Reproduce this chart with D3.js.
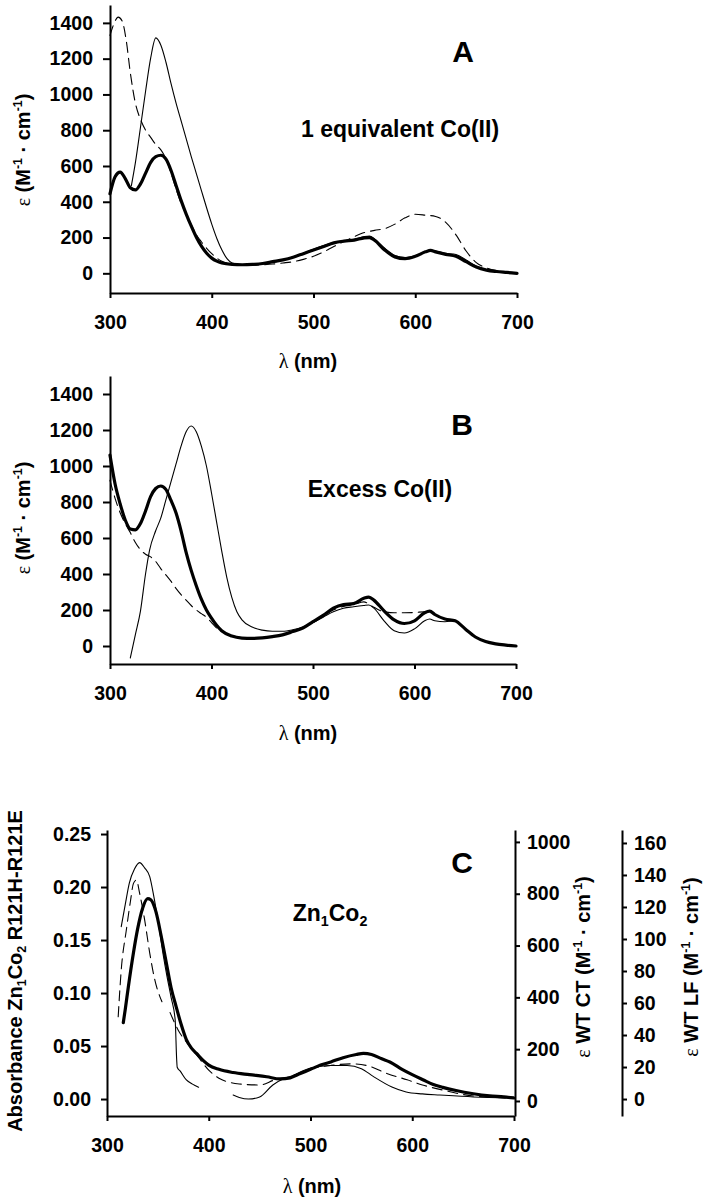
<!DOCTYPE html>
<html><head><meta charset="utf-8">
<script src="https://cdn.jsdelivr.net/npm/d3@7"></script>
<style>
body{margin:0;background:#fff}
svg{display:block}
text{font-family:"Liberation Sans",Arial,sans-serif;font-weight:bold;fill:#000}
</style>
</head><body>
<svg id="chart" width="704" height="1199"></svg>
<script>
// ---------------- DATA ----------------
const xTicks = [300, 400, 500, 600, 700];
const epsTicks = [0, 200, 400, 600, 800, 1000, 1200, 1400];
const absTicks = [0, 0.05, 0.10, 0.15, 0.20, 0.25];
const ctTicks = [0, 200, 400, 600, 800, 1000];
const lfTicks = [0, 20, 40, 60, 80, 100, 120, 140, 160];

// Panel A: 1 equivalent Co(II)
const aThickX = [300,305,310,315,320,325,330,335,340,345,350,355,360,365,370,375,380,385,390,395,400,405,410,420,430,440,450,460,470,480,490,500,510,520,530,540,550,555,560,570,580,590,600,610,615,620,630,640,650,660,670,680,690,700];
const aThickY = [445,540,566,530,478,466,500,560,620,652,660,638,575,490,405,330,262,200,150,112,85,68,58,50,48,50,55,65,75,90,110,130,150,170,180,186,198,200,185,130,92,82,95,120,128,120,106,95,65,35,18,10,5,0];
const aThinX = [321,325,330,335,340,345,350,355,360,365,370,375,380,385,390,395,400,405,410,415,420,430,440,450,460,470,480,490,500,510,520,530,540,550,555,560,570,580,590,600,610,615,620,630,640,650,660,670,680,690,700];
const aThinY = [490,620,818,1019,1204,1316,1275,1180,1060,950,850,750,650,555,460,365,275,195,130,82,58,48,50,55,62,75,92,112,135,155,172,182,190,205,208,192,140,100,88,98,122,128,125,112,105,75,40,20,10,5,2];
const aDashX = [300,305,308,312,316,320,325,330,335,340,345,350,355,360,365,370,375,380,385,390,395,400,405,410,420,430,440,450,460,470,480,490,500,510,520,530,540,550,560,570,580,590,600,610,620,630,640,650,660,670,680,690,700];
const aDashY = [1330,1410,1432,1410,1300,1120,950,860,800,760,720,690,640,560,470,390,330,270,215,175,140,110,85,68,52,45,45,48,52,58,65,78,95,120,150,178,205,228,240,250,275,310,330,325,318,285,215,125,60,30,15,8,2];

// Panel B: Excess Co(II)
const bThickX = [300,305,310,315,320,325,330,335,340,345,350,355,360,365,370,375,380,385,390,395,400,405,410,420,430,440,450,460,470,480,490,500,510,520,530,540,550,555,560,570,580,590,600,610,615,620,630,640,650,660,670,680,690,700];
const bThickY = [1060,900,790,700,650,645,680,750,830,875,889,870,810,740,640,520,420,335,260,200,155,115,85,55,44,42,45,52,62,80,100,135,170,210,230,235,265,272,255,195,145,125,140,185,194,175,150,140,95,50,25,12,5,0];
const bThinX = [320,325,330,335,339,345,350,355,360,365,370,375,380,385,390,395,400,405,410,415,420,425,430,440,450,460,470,480,490,500,510,520,530,540,550,555,560,570,580,590,600,610,615,620,630,640,650,660,670,680,690,700];
const bThinY = [-67,63,194,400,533,640,710,810,910,1010,1110,1190,1222,1190,1110,1000,850,690,530,383,270,190,145,105,88,82,82,90,105,130,160,190,210,218,225,228,210,140,85,72,95,140,150,140,135,140,95,50,25,12,5,0];
const bDashX = [300,305,310,315,320,325,330,335,340,345,350,355,360,365,370,375,380,385,390,395,400,405,410,420,430,440,450,460,470,480,490,500,510,520,530,540,550,560,570,580,590,600,610,615,620,630,640,650,660,670,680,690,700];
const bDashY = [920,820,740,680,630,575,535,510,495,470,430,395,360,320,285,255,225,200,180,160,130,100,80,58,46,44,46,52,62,80,100,130,165,200,220,230,245,215,190,185,185,186,190,190,175,150,140,95,50,25,12,5,0];

// Panel C: Zn1Co2
const cThickX = [316,318,321,326,330,335,340,343,348,353,358,363,368,373,378,383,388,395,400,410,424,440,457,470,480,490,500,510,520,532,545,552,560,570,578,590,600,611,620,630,643,660,676,690,700];
const cThickY = [0.072,0.085,0.106,0.138,0.160,0.180,0.189,0.188,0.177,0.155,0.130,0.105,0.087,0.070,0.056,0.048,0.043,0.036,0.032,0.028,0.025,0.023,0.021,0.019,0.020,0.024,0.028,0.032,0.035,0.039,0.042,0.043,0.042,0.038,0.035,0.028,0.023,0.018,0.014,0.011,0.008,0.005,0.003,0.002,0.001];
// WT, charge-transfer region (CT axis units)
const cThinCtX = [314,318,322,327,332,337,342,346,350,355,359,363,367,368.5,369,372,378,384,390];
const cThinCtY = [673,760,842,895,920,900,866,790,699,570,480,400,313,158,130,115,81,65,53];
const cDashCtX = [311,314,319,323,326,329,332,337,342,347,354];
const cDashCtY = [325,506,660,770,840,853,803,699,571,467,383];
// WT, ligand-field region (LF axis units)
const cThinLfX = [424,430,439,450,463,473,480,500,520,536,550,562,580,594,610,627,660,700];
const cThinLfY = [2.5,1,0,1.3,8.8,12.5,14,19.4,21,21,19,14,7.5,4.4,3.2,2.5,1.3,0.6];
const cDashLfX = [362,370,380,390,400,410,420,430,450,465,480,500,520,540,555,575,595,610,630,660,700];
const cDashLfY = [54,43,34,26,18,13,10.5,9.4,8.8,12,14,19,21,22,21,16,12,8.8,5.6,1.9,0.6];

// ---------------- DRAWING ----------------
const svg = d3.select("#chart");
const TICK_FS = 19.5, TITLE_FS = 20, NOTE_FS = 23, LETTER_FS = 30;
const zip = (xs, ys) => xs.map((v, i) => [v, ys[i]]);

function rich(g, x, y, parts, fs, opts = {}) {
  const t = g.append("text")
    .attr("text-anchor", opts.anchor || "middle")
    .attr("font-size", fs)
    .attr("transform", `translate(${x},${y})` + (opts.rotate ? ` rotate(${opts.rotate})` : ""));
  let shift = 0;
  parts.forEach(p => {
    const s = t.append("tspan").text(p.t);
    let target = 0;
    if (p.sup) { s.attr("font-size", fs * 0.62); target = -fs * 0.42; }
    if (p.sub) { s.attr("font-size", fs * 0.62); target = fs * 0.22; }
    if (p.serif) s.attr("font-family", "'Liberation Serif','DejaVu Serif',serif").attr("font-weight", "normal");
    s.attr("dy", target - shift);
    shift = target;
  });
  return t;
}

const epsUnit = [{t:"ε", serif:true},{t:" (M"},{t:"-1",sup:true},{t:" · cm"},{t:"-1",sup:true},{t:")"}];
const lamLabel = [{t:"λ", serif:true},{t:" (nm)"}];

function styleAxis(g) {
  g.selectAll(".domain").attr("stroke", "#000").attr("stroke-width", 2);
  g.selectAll(".tick line").attr("stroke", "#000").attr("stroke-width", 2);
  g.selectAll(".tick text").attr("font-size", TICK_FS).attr("font-family", "'Liberation Sans',Arial,sans-serif").attr("font-weight", "bold").attr("fill", "#000");
}

function drawLine(g, x, y, data, kind) {
  const line = d3.line().x(d => x(d[0])).y(d => y(d[1])).curve(d3.curveMonotoneX);
  const p = g.append("path").attr("d", line(data)).attr("fill", "none").attr("stroke", "#000")
    .attr("stroke-linejoin", "round").attr("stroke-linecap", "round");
  if (kind === "thick") p.attr("stroke-width", 3.2);
  else if (kind === "thin") p.attr("stroke-width", 1.1);
  else p.attr("stroke-width", 1.1).attr("stroke-dasharray", "10,6");
}

const intFmt = d3.format("d");

function epsPanel(cfg) {
  const g = svg.append("g");
  const x = d3.scaleLinear().domain([300, 700]).range(cfg.xr);
  const y = d3.scaleLinear().domain(cfg.yd).range(cfg.yr);
  drawLine(g, x, y, zip(cfg.dash[0], cfg.dash[1]), "dash");
  drawLine(g, x, y, zip(cfg.thin[0], cfg.thin[1]), "thin");
  drawLine(g, x, y, zip(cfg.thick[0], cfg.thick[1]), "thick");
  const ax = g.append("g").attr("transform", `translate(0,${cfg.yr[0]})`)
    .call(d3.axisBottom(x).tickValues(xTicks).tickFormat(intFmt).tickSize(5).tickSizeOuter(0).tickPadding(17));
  styleAxis(ax);
  const ay = g.append("g").attr("transform", `translate(${cfg.xr[0]},0)`)
    .call(d3.axisLeft(y).tickValues(epsTicks).tickFormat(intFmt).tickSize(7).tickSizeOuter(0).tickPadding(10));
  styleAxis(ay);
  rich(g, cfg.lamX, cfg.lamY, lamLabel, TITLE_FS);
  rich(g, 30, cfg.yTitleY, epsUnit, TITLE_FS, {rotate: -90});
  g.append("text").attr("x", cfg.letter[0]).attr("y", cfg.letter[1]).attr("text-anchor", "middle").attr("font-size", LETTER_FS).text(cfg.letter[2]);
  g.append("text").attr("x", cfg.note[0]).attr("y", cfg.note[1]).attr("text-anchor", "middle").attr("font-size", NOTE_FS).text(cfg.note[2]);
}

epsPanel({xr:[110,517], yr:[293,5], yd:[-110,1500],
  thick:[aThickX,aThickY], thin:[aThinX,aThinY], dash:[aDashX,aDashY],
  lamX:308, lamY:368, yTitleY:150, letter:[463,62,"A"], note:[400,137,"1 equivalent Co(II)"]});

epsPanel({xr:[110,516], yr:[664,376], yd:[-100,1500],
  thick:[bThickX,bThickY], thin:[bThinX,bThinY], dash:[bDashX,bDashY],
  lamX:308, lamY:740, yTitleY:518, letter:[462,435,"B"], note:[380,497,"Excess Co(II)"]});

// Panel C
(function(){
  const g = svg.append("g");
  const yr = [1116, 830];
  const x = d3.scaleLinear().domain([300, 700]).range([107, 514]);
  const yA = d3.scaleLinear().domain([-0.016, 0.2538]).range(yr);
  const yCT = d3.scaleLinear().domain([-58, 1046]).range(yr);
  const yLF = d3.scaleLinear().domain([-10.6, 168.1]).range(yr);
  drawLine(g, x, yCT, zip(cDashCtX, cDashCtY), "dash");
  drawLine(g, x, yLF, zip(cDashLfX, cDashLfY), "dash");
  drawLine(g, x, yCT, zip(cThinCtX, cThinCtY), "thin");
  drawLine(g, x, yLF, zip(cThinLfX, cThinLfY), "thin");
  drawLine(g, x, yA, zip(cThickX, cThickY), "thick");
  const ax = g.append("g").attr("transform", `translate(0,${yr[0]})`)
    .call(d3.axisBottom(x).tickValues(xTicks).tickFormat(intFmt).tickSize(5).tickSizeOuter(0).tickPadding(17));
  styleAxis(ax);
  const ayA = g.append("g").attr("transform", "translate(107,0)")
    .call(d3.axisLeft(yA).tickValues(absTicks).tickFormat(d3.format(".2f")).tickSize(6).tickSizeOuter(0).tickPadding(10));
  styleAxis(ayA);
  const ayCT = g.append("g").attr("transform", "translate(515,0)")
    .call(d3.axisRight(yCT).tickValues(ctTicks).tickFormat(intFmt).tickSize(5).tickSizeOuter(0).tickPadding(7));
  styleAxis(ayCT);
  const ayLF = g.append("g").attr("transform", "translate(622,0)")
    .call(d3.axisRight(yLF).tickValues(lfTicks).tickFormat(intFmt).tickSize(5).tickSizeOuter(0).tickPadding(7));
  styleAxis(ayLF);
  rich(g, 312, 1193, lamLabel, TITLE_FS);
  rich(g, 22, 971, [{t:"Absorbance Zn"},{t:"1",sub:true},{t:"Co"},{t:"2",sub:true},{t:" R121H-R121E"}], TITLE_FS, {rotate:-90});
  rich(g, 590, 967, [{t:"ε", serif:true},{t:" WT CT (M"},{t:"-1",sup:true},{t:" · cm"},{t:"-1",sup:true},{t:")"}], TITLE_FS, {rotate:-90});
  rich(g, 698, 967, [{t:"ε", serif:true},{t:" WT LF (M"},{t:"-1",sup:true},{t:" · cm"},{t:"-1",sup:true},{t:")"}], TITLE_FS, {rotate:-90});
  g.append("text").attr("x", 462).attr("y", 873).attr("text-anchor", "middle").attr("font-size", LETTER_FS).text("C");
  rich(g, 330, 921, [{t:"Zn"},{t:"1",sub:true},{t:"Co"},{t:"2",sub:true}], NOTE_FS);
})();
</script>
</body></html>
